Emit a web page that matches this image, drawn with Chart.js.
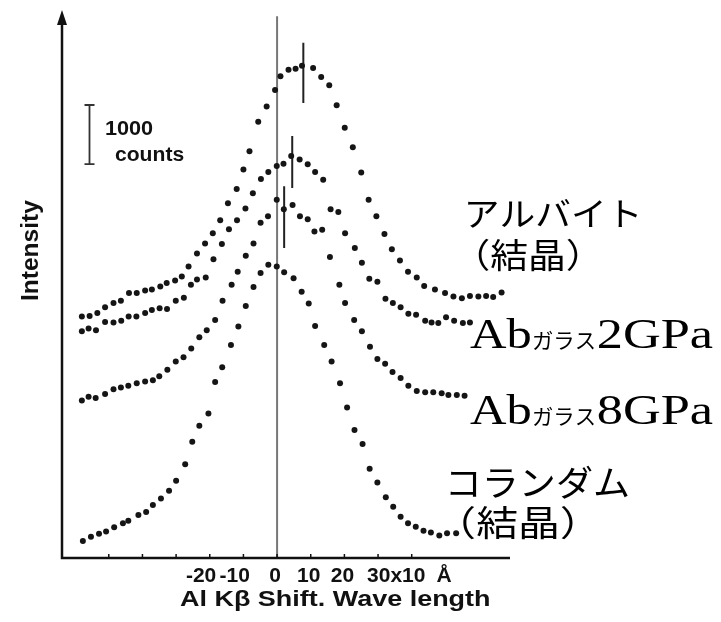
<!DOCTYPE html>
<html>
<head>
<meta charset="utf-8">
<script src="https://cdn.jsdelivr.net/npm/chart.js@4"></script>
<style>
  html, body { margin: 0; padding: 0; background: #fff; }
  canvas { display: block; }
</style>
</head>
<body>
<canvas id="myChart" width="721" height="622"></canvas>
<script>
// --- data (x: shift in 10 Å units, y: counts) ---
const albiteX = [-58.0,-55.7,-53.4,-51.1,-48.6,-46.4,-44.0,-41.7,-39.2,-37.2,-34.7,-32.8,-30.3,-28.3,-26.3,-23.8,-21.4,-19.1,-16.9,-14.6,-12.0,-10.0,-8.2,-5.6,-3.1,-0.6,1.0,3.4,5.5,7.4,10.7,13.1,15.5,17.7,20.1,22.5,25.0,27.2,29.5,31.9,34.1,36.5,38.9,41.5,43.7,46.9,49.9,52.4,54.9,57.3,59.8,62.1,64.2,66.7];
const albiteY = [4090,4100,4150,4250,4320,4360,4490,4490,4530,4550,4600,4660,4700,4770,4940,5160,5330,5500,5720,6010,6250,6580,6890,7390,7650,7930,8160,8270,8290,8340,8300,8150,8010,7670,7290,6960,6530,6070,5790,5490,5230,5040,4850,4750,4610,4550,4490,4430,4400,4440,4430,4440,4420,4500];

const glass2X = [-58.0,-56.0,-53.8,-51.1,-48.6,-46.3,-44.1,-41.8,-39.2,-37.2,-34.9,-32.7,-30.1,-27.7,-25.6,-23.8,-21.2,-18.9,-16.4,-14.3,-11.9,-9.4,-7.2,-4.8,-2.6,-0.1,1.9,4.2,6.7,9.1,11.3,13.7,15.9,18.2,20.2,23.1,25.2,27.4,29.8,32.2,34.4,36.7,39.0,41.3,44.0,45.9,47.9,50.2,52.6,55.2,57.3];
const glass2Y = [3840,3890,3860,4000,3990,4020,4090,4090,4150,4200,4230,4220,4360,4410,4630,4720,4750,5060,5320,5570,5720,5920,6180,6420,6540,6640,6680,6810,6750,6670,6540,6410,5910,5860,5500,5250,5000,4730,4680,4390,4320,4250,4140,4120,4020,3990,3980,4080,4020,3980,3990];

const glass8X = [-58.0,-56.0,-53.9,-51.1,-48.6,-46.4,-44.2,-41.7,-39.2,-36.9,-35.0,-32.6,-30.1,-27.8,-25.5,-23.1,-20.9,-18.4,-16.2,-13.5,-11.7,-9.3,-7.0,-4.9,-2.7,-0.1,2.0,4.6,6.8,9.1,11.1,13.4,15.7,18.5,20.2,22.9,25.2,27.6,29.8,32.1,34.3,36.7,39.0,41.5,44.0,46.4,48.9,50.9,53.4,55.7];
const glass8Y = [2670,2730,2710,2780,2860,2890,2920,2960,2990,3010,3080,3190,3330,3400,3550,3740,3860,4030,4360,4630,4850,5120,5330,5680,5790,6070,5910,5980,5790,5740,5530,5560,5100,4630,4320,4030,3840,3580,3370,3290,3150,3050,2920,2830,2810,2810,2790,2760,2760,2750];

const corundumX = [-57.7,-55.3,-52.9,-50.8,-48.4,-45.8,-44.2,-41.2,-38.9,-36.9,-34.5,-32.1,-30.0,-27.3,-25.2,-23.1,-20.4,-18.4,-16.3,-13.7,-11.5,-9.3,-7.0,-4.9,-2.6,-0.1,2.1,4.9,7.3,9.4,11.3,14.0,16.2,18.7,20.8,23.0,25.4,27.5,29.8,32.3,34.5,36.7,38.9,41.2,43.5,45.7,48.2,50.5,53.2];
const corundumY = [290,360,410,450,520,590,630,730,780,900,1010,1140,1310,1590,1970,2240,2450,2980,3230,3610,3920,4270,4590,4830,4970,4940,4840,4740,4510,4310,3930,3610,3330,2960,2550,2170,1930,1510,1280,1030,870,700,590,530,460,430,380,420,420];

// peak position marks (x) and their vertical extent (counts)
const peakX = [7.8, 4.5, 2.1];
const peakTop = [8730, 7150, 6300];
const peakBottom = [7710, 6270, 5250];

// axis ticks
const tickMarks = [-50,-40,-30,-20,-10,0,10,20,30,40];
const tickValues = [-20,-10,0,10,20,30];
const tickLabels = ['-20','-10','0','10','20','30x10'];
const xUnit = 'Å';
const xTitle = 'Al Kβ Shift. Wave length';
const yTitle = 'Intensity';
const scaleBarCounts = 1000;

const seriesNames = ['アルバイト（結晶）', 'Abガラス2GPa', 'Abガラス8GPa', 'コランダム（結晶）'];

function pts(xs, ys) {
    return xs.map((x, i) => ({ x: x, y: ys[i] }));
}

// draw text stretched so its ink runs from x0 to x1
function fitInk(ctx, str, x0, x1, baseline, font) {
    ctx.save();
    ctx.font = font;
    ctx.textAlign = 'left';
    ctx.textBaseline = 'alphabetic';
    const m = ctx.measureText(str);
    const inkW = m.actualBoundingBoxLeft + m.actualBoundingBoxRight;
    ctx.translate(x0, baseline);
    ctx.scale((x1 - x0) / inkW, 1);
    ctx.fillText(str, m.actualBoundingBoxLeft, 0);
    ctx.restore();
}

const SANS = '"Liberation Sans", Arial, Helvetica, sans-serif';
const SERIF = '"Liberation Serif", "Times New Roman", serif';
const CJK = '"Noto Sans CJK JP", sans-serif';

const decor = {
    id: 'decor',
    afterDraw(chart) {
        const ctx = chart.ctx;
        const xs = chart.scales.x;
        const ys = chart.scales.y;
        const area = chart.chartArea;
        ctx.save();
        ctx.fillStyle = '#111';
        ctx.strokeStyle = '#111';

        // axes
        ctx.lineWidth = 2.5;
        ctx.beginPath();
        ctx.moveTo(area.left, area.top + 6);
        ctx.lineTo(area.left, area.bottom);
        ctx.lineTo(area.right, area.bottom);
        ctx.stroke();
        // arrow head
        ctx.beginPath();
        ctx.moveTo(area.left, area.top - 2);
        ctx.lineTo(area.left - 5, area.top + 13);
        ctx.lineTo(area.left + 5, area.top + 13);
        ctx.closePath();
        ctx.fill();

        // small tick marks pointing up
        ctx.lineWidth = 1.5;
        tickMarks.forEach(v => {
            const px = xs.getPixelForValue(v);
            ctx.beginPath();
            ctx.moveTo(px, area.bottom);
            ctx.lineTo(px, area.bottom - 4);
            ctx.stroke();
        });

        // tick labels
        ctx.font = 'bold 21px ' + SANS;
        ctx.textBaseline = 'alphabetic';
        let lastEnd = 0;
        tickValues.forEach((v, i) => {
            const px = xs.getPixelForValue(v);
            const lab = tickLabels[i];
            if (lab.startsWith('-')) {
                ctx.textAlign = 'right';
                ctx.fillText(lab, px + 6.5, 582);
            } else if (lab.indexOf('x') > 0) {
                ctx.textAlign = 'left';
                ctx.fillText(lab, px - 11, 582);
                lastEnd = px - 11 + ctx.measureText(lab).width;
            } else {
                ctx.textAlign = 'center';
                ctx.fillText(lab, px - 2, 582);
            }
        });
        ctx.textAlign = 'left';
        ctx.fillText(xUnit, lastEnd + 11, 582);

        // axis titles
        fitInk(ctx, xTitle, 180, 490, 606, 'bold 22px ' + SANS);
        ctx.save();
        ctx.translate(38, 300);
        ctx.rotate(-Math.PI / 2);
        fitInk(ctx, yTitle, 0, 100, 0, 'bold 23px ' + SANS);
        ctx.restore();

        // 1000 counts scale bar
        const barTop = 105;
        const barBottom = barTop + (ys.getPixelForValue(0) - ys.getPixelForValue(scaleBarCounts));
        ctx.strokeStyle = '#333';
        ctx.lineWidth = 1.8;
        ctx.beginPath();
        ctx.moveTo(89.5, barTop); ctx.lineTo(89.5, barBottom);
        ctx.moveTo(84.5, barTop); ctx.lineTo(94.5, barTop);
        ctx.moveTo(84.5, barBottom); ctx.lineTo(94.5, barBottom);
        ctx.stroke();
        fitInk(ctx, String(scaleBarCounts), 106, 153, 135, 'bold 20px ' + SANS);
        fitInk(ctx, 'counts', 115, 184, 161, 'bold 20px ' + SANS);

        // series labels
        ctx.fillStyle = '#000';
        fitInk(ctx, 'アルバイト', 468, 637, 226, '33px ' + CJK);
        fitInk(ctx, '（結晶）', 478, 578, 268, '34px ' + CJK);

        [seriesNames[1], seriesNames[2]].forEach((name, i) => {
            const base = i === 0 ? 348 : 424;
            const num = name.replace('Abガラス', '');
            fitInk(ctx, 'Ab', 470, 530, base, '43px ' + SERIF);
            fitInk(ctx, 'ガラス', 533, 594, base, '21px ' + CJK);
            fitInk(ctx, num, 598, 713, base, '43px ' + SERIF);
        });

        fitInk(ctx, 'コランダム', 450, 628, 496, '35px ' + CJK);
        fitInk(ctx, '（結晶）', 463, 573, 536, '35px ' + CJK);

        ctx.restore();
    }
};

const dotStyle = {
    showLine: false,
    pointRadius: 3,
    pointBorderWidth: 0,
    pointBackgroundColor: '#151515',
    pointHoverRadius: 3
};

const markerSets = peakX.map((x, i) => ({
    type: 'line',
    data: [{ x: x, y: peakTop[i] }, { x: x, y: peakBottom[i] }],
    borderColor: '#222',
    borderWidth: 2,
    pointRadius: 0,
    order: 3
}));

new Chart(document.getElementById('myChart'), {
    type: 'scatter',
    data: {
        datasets: [
            Object.assign({ label: seriesNames[0], data: pts(albiteX, albiteY), order: 1 }, dotStyle),
            Object.assign({ label: seriesNames[1], data: pts(glass2X, glass2Y), order: 1 }, dotStyle),
            Object.assign({ label: seriesNames[2], data: pts(glass8X, glass8Y), order: 1 }, dotStyle),
            Object.assign({ label: seriesNames[3], data: pts(corundumX, corundumY), order: 1 }, dotStyle),
            {
                type: 'line',
                label: 'zero',
                data: [{ x: 0, y: 0 }, { x: 0, y: 9180 }],
                borderColor: '#777',
                borderWidth: 2,
                pointRadius: 0,
                order: 5
            }
        ].concat(markerSets)
    },
    options: {
        responsive: false,
        animation: false,
        devicePixelRatio: 1,
        layout: { padding: { left: 62, right: 211, top: 12, bottom: 64 } },
        scales: {
            x: { type: 'linear', min: -63.9, max: 69.2, display: false },
            y: { type: 'linear', min: 0, max: 9250, display: false }
        },
        plugins: {
            legend: { display: false },
            tooltip: { enabled: false }
        }
    },
    plugins: [decor]
});
</script>
</body>
</html>
